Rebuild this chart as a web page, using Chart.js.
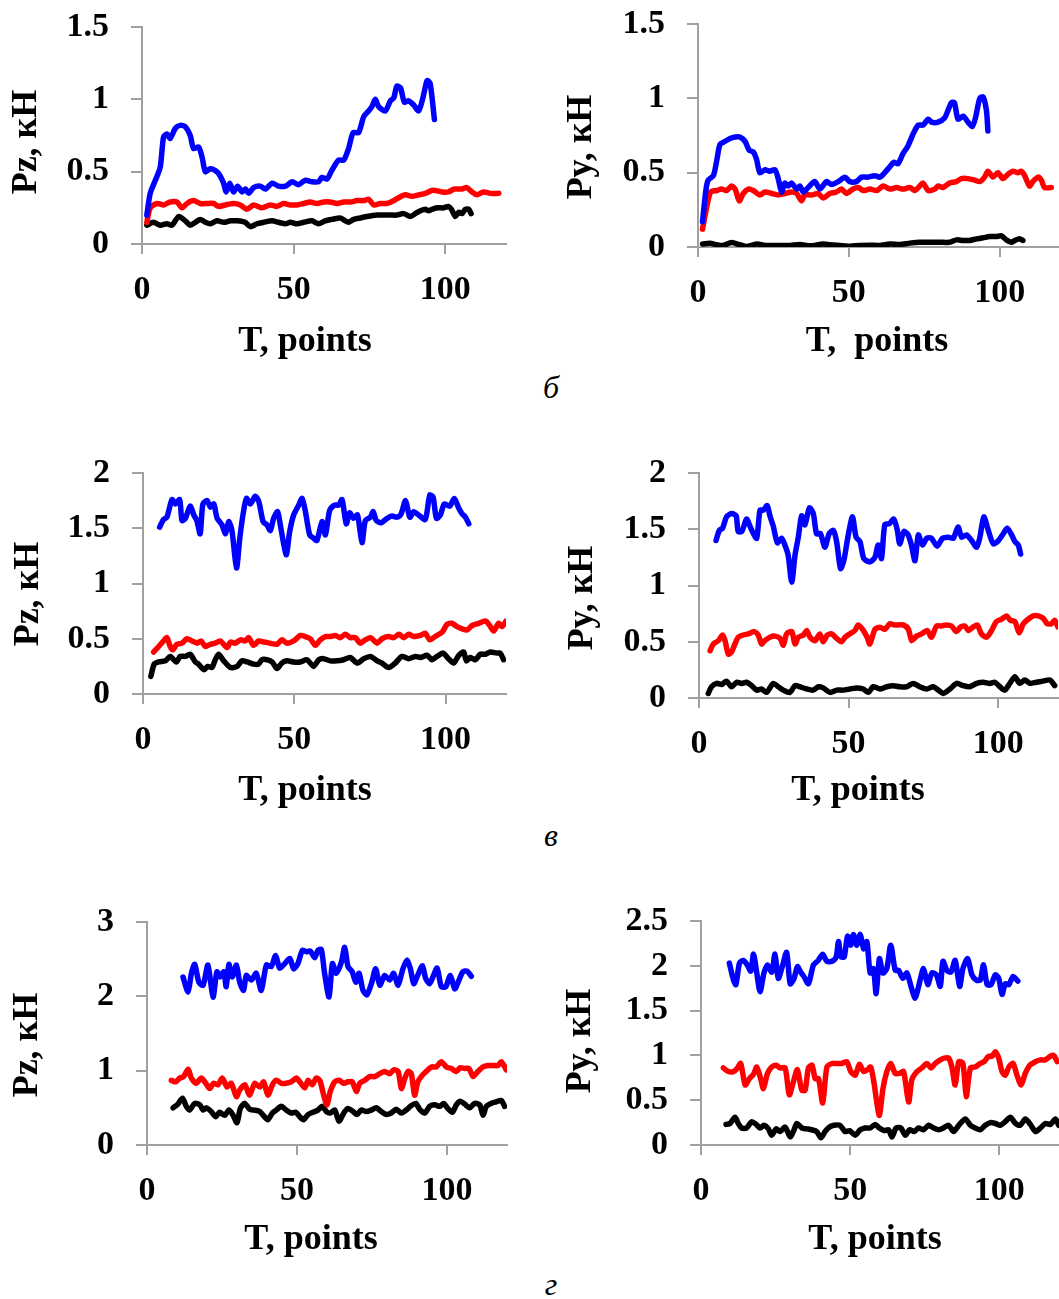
<!DOCTYPE html>
<html>
<head>
<meta charset="utf-8">
<script src="https://cdn.jsdelivr.net/npm/chart.js@4.4.1/dist/chart.umd.min.js"></script>
<style>
  html, body { margin: 0; padding: 0; background: #fff; }
  body { width: 1059px; height: 1299px; position: relative; overflow: hidden; }
  canvas { position: absolute; }
  .cap { position: absolute; font: italic 32px "Liberation Serif", serif; line-height: 32px; transform: translateX(-50%); }
</style>
</head>
<body>
<div class="cap" style="left:551px;top:371px">б</div>
<div class="cap" style="left:551px;top:819px">в</div>
<div class="cap" style="left:551px;top:1268px">г</div>
<script>
// tick labels
const xTicks = [0, 50, 100];
const yTicksB = [0, 0.5, 1, 1.5];
const yTicksV = [0, 0.5, 1, 1.5, 2];
const yTicksPzG = [0, 1, 2, 3];
const yTicksPyG = [0, 0.5, 1, 1.5, 2, 2.5];

// series: [T, force kN]
// б, Pz
const pzB_blue = [[1.6,0.20],[2.7,0.35],[4.4,0.44],[6,0.53],[7.1,0.74],[8.2,0.76],[9.3,0.73],[11,0.80],[12.6,0.82],[14.3,0.81],[15.9,0.75],[17,0.66],[18.7,0.67],[19.8,0.60],[20.9,0.50],[22.5,0.52],[24.7,0.50],[25.8,0.47],[26.9,0.42],[27.8,0.36],[28.9,0.42],[30.2,0.36],[31.5,0.40],[33,0.36],[34.1,0.38],[35.2,0.35],[36.8,0.39],[39,0.40],[40.7,0.38],[42.9,0.42],[45,0.40],[47.3,0.40],[49.5,0.43],[51.6,0.41],[53.8,0.44],[56,0.43],[58.2,0.43],[59.3,0.46],[61,0.45],[62.6,0.51],[64.8,0.58],[66.5,0.58],[68.1,0.66],[69.6,0.77],[71.4,0.77],[73.1,0.88],[74.7,0.92],[75.8,0.95],[76.9,1.00],[78,0.95],[80.2,0.92],[81.9,0.99],[83,1.01],[84,1.09],[85.2,1.08],[86.5,0.98],[87.9,0.99],[89.6,0.96],[91.2,0.92],[92.6,1.01],[94,1.13],[95,1.11],[96.4,0.86]];
const pzB_red = [[1.6,0.15],[2.7,0.25],[5,0.28],[7.1,0.27],[9.3,0.29],[11.5,0.29],[13.2,0.25],[14.8,0.28],[17,0.30],[19.2,0.28],[21.4,0.28],[23.6,0.28],[25.3,0.26],[27.5,0.27],[30.2,0.28],[32.4,0.27],[34.6,0.24],[36.8,0.27],[39.6,0.25],[42.3,0.27],[44.5,0.26],[46.7,0.28],[48.9,0.27],[51.1,0.27],[53.3,0.28],[55.5,0.29],[57.7,0.28],[59.9,0.29],[62,0.29],[64.3,0.28],[66.5,0.29],[68.7,0.29],[70.9,0.30],[73.1,0.30],[74.7,0.31],[76.4,0.27],[78.6,0.28],[80.8,0.28],[83,0.30],[84.6,0.32],[86.8,0.34],[89,0.33],[91.2,0.34],[93.4,0.35],[95.6,0.37],[96.7,0.37],[98.9,0.36],[101,0.36],[103,0.38],[105.5,0.38],[107,0.39],[108.8,0.36],[110.4,0.34],[112.6,0.36],[114.8,0.35],[117.6,0.35]];
const pzB_black = [[1.6,0.13],[3.8,0.15],[6,0.13],[8.2,0.14],[9.9,0.13],[12.1,0.19],[14.3,0.16],[15.9,0.13],[17.6,0.15],[19.2,0.17],[20.9,0.15],[22.5,0.14],[24.7,0.16],[27,0.15],[29.1,0.16],[31.3,0.16],[34,0.15],[35.7,0.12],[37.9,0.14],[40.1,0.15],[42.9,0.16],[45,0.15],[47.3,0.14],[48.9,0.15],[51.1,0.14],[53.3,0.15],[56,0.16],[58.2,0.14],[60.4,0.16],[62.6,0.17],[65.4,0.18],[67,0.16],[68.1,0.15],[69.8,0.17],[72,0.18],[74.2,0.19],[77.5,0.20],[79.7,0.20],[81.9,0.20],[84,0.20],[86.3,0.21],[88.5,0.19],[90.1,0.21],[91.8,0.23],[93.4,0.24],[94.5,0.23],[95.6,0.24],[97.3,0.25],[99.5,0.25],[101,0.26],[102,0.24],[103.3,0.19],[104.4,0.22],[105.5,0.21],[106.6,0.24],[107.7,0.24],[108.5,0.21]];
// б, Py
const pyB_blue = [[1.5,0.17],[2.6,0.38],[3.4,0.45],[5.1,0.48],[6.2,0.58],[7.3,0.69],[8.9,0.71],[10.6,0.73],[12.3,0.74],[13.9,0.74],[15.6,0.71],[17,0.65],[18.3,0.64],[19.4,0.59],[20.5,0.50],[22.2,0.52],[23.8,0.51],[25.5,0.52],[26.6,0.46],[27.7,0.37],[28.8,0.43],[29.9,0.41],[31,0.43],[32.7,0.39],[33.8,0.41],[34.9,0.37],[36.5,0.40],[38.7,0.44],[40.4,0.39],[42.6,0.44],[44.3,0.42],[46.5,0.44],[48.7,0.47],[50.3,0.44],[52.5,0.44],[54.2,0.47],[56.4,0.47],[58.6,0.48],[60.3,0.47],[61.9,0.50],[63.6,0.54],[64.9,0.57],[66.3,0.56],[68,0.63],[69.6,0.68],[71.3,0.76],[73,0.82],[74.6,0.82],[76.3,0.86],[77.4,0.84],[79.6,0.84],[81.8,0.87],[82.9,0.92],[84,0.97],[85,0.97],[86.2,0.86],[87.9,0.88],[89.5,0.84],[90.9,0.81],[92,0.87],[93.4,1.00],[94.5,1.01],[95.6,0.92],[96.1,0.78]];
const pyB_red = [[1.5,0.12],[2.9,0.27],[4.2,0.37],[6.2,0.38],[7.8,0.39],[9.5,0.38],[11.1,0.41],[12.3,0.39],[13.7,0.31],[15,0.36],[16.7,0.39],[18.3,0.38],[20.5,0.35],[22.2,0.37],[24.4,0.36],[26.6,0.35],[28.8,0.36],[31,0.37],[32.7,0.36],[34.3,0.31],[35.4,0.35],[37.6,0.35],[39.8,0.36],[41.5,0.33],[43.7,0.36],[45.9,0.37],[47.6,0.39],[49.2,0.36],[51.4,0.39],[53.1,0.40],[54.8,0.38],[57,0.39],[59.2,0.38],[61.4,0.41],[63.6,0.39],[65.8,0.40],[68,0.39],[70.2,0.40],[71.9,0.38],[73.5,0.41],[74.6,0.43],[76.3,0.38],[78.5,0.39],[79.6,0.41],[81.2,0.40],[83.4,0.43],[85.6,0.44],[87.3,0.46],[89.5,0.46],[91.7,0.45],[93.4,0.44],[95,0.47],[96.1,0.51],[97.8,0.47],[99.4,0.50],[101.1,0.46],[102.8,0.49],[104.4,0.51],[106.1,0.50],[107.2,0.51],[108.3,0.48],[109.9,0.41],[111,0.44],[112.7,0.47],[113.8,0.45],[114.9,0.40],[117.1,0.40]];
const pyB_black = [[1.5,0.02],[4,0.025],[6.2,0.015],[8.4,0.01],[11.1,0.03],[13.9,0.015],[16.1,0.003],[19.4,0.02],[22.7,0.01],[26,0.01],[30.5,0.01],[33.8,0.017],[37.1,0.008],[41.5,0.02],[43.7,0.015],[47,0.01],[50.3,0.005],[53.6,0.01],[57,0.012],[60.3,0.01],[63.6,0.02],[66.9,0.017],[70.2,0.026],[73.5,0.032],[76.8,0.032],[80.1,0.032],[83.4,0.032],[85.7,0.048],[87.9,0.044],[90.1,0.044],[92.3,0.055],[94.5,0.062],[96.7,0.07],[98.9,0.07],[100.6,0.075],[102.2,0.048],[103.9,0.032],[105,0.044],[106.6,0.055],[107.7,0.044]];
// в, Pz
const pzV_blue = [[5.5,1.51],[6.8,1.58],[7.9,1.60],[9.6,1.76],[10.7,1.72],[12.1,1.76],[12.9,1.57],[14,1.59],[15.6,1.70],[16.8,1.62],[17.8,1.57],[18.9,1.45],[19.8,1.72],[21.2,1.75],[22.3,1.69],[23.4,1.72],[24.5,1.59],[26.1,1.53],[27.3,1.45],[28.3,1.56],[29.4,1.48],[30.9,1.14],[32,1.41],[33.1,1.63],[34.2,1.77],[35.5,1.72],[37.1,1.79],[38.3,1.74],[39.7,1.56],[41,1.53],[42.1,1.48],[43.2,1.59],[44.5,1.65],[45.4,1.53],[46.5,1.36],[47.4,1.26],[48.5,1.47],[49.8,1.62],[51.5,1.71],[52.6,1.77],[53.7,1.65],[55.1,1.44],[56.4,1.41],[57.5,1.39],[59.2,1.56],[60.3,1.44],[61.7,1.66],[63.3,1.71],[64.7,1.71],[65.8,1.76],[67.2,1.54],[68.3,1.64],[69.6,1.59],[70.9,1.62],[72.4,1.37],[73.5,1.57],[75.2,1.60],[76.1,1.65],[77.1,1.57],[78.7,1.55],[80.7,1.59],[82.3,1.61],[84,1.60],[85.3,1.63],[86.8,1.75],[88.2,1.60],[89.5,1.65],[91.1,1.62],[93.3,1.58],[94.8,1.80],[95.9,1.78],[97,1.59],[98.3,1.62],[99.6,1.72],[101.4,1.70],[102.9,1.77],[104.4,1.68],[105.5,1.63],[106.6,1.60],[107.7,1.54]];
const pzV_red = [[3.5,0.38],[5.2,0.43],[6.8,0.48],[7.9,0.51],[9,0.43],[9.9,0.40],[11.2,0.45],[12.9,0.46],[14.5,0.50],[16.2,0.48],[17.9,0.46],[19.2,0.48],[20.6,0.43],[22.3,0.45],[23.9,0.46],[25.6,0.48],[27.8,0.42],[28.9,0.47],[30.5,0.46],[32.2,0.49],[33.8,0.48],[34.9,0.51],[36.6,0.44],[38.2,0.48],[39.9,0.47],[42.1,0.46],[44.3,0.45],[45.9,0.49],[47.6,0.46],[49.8,0.48],[52,0.53],[53.7,0.52],[55.3,0.50],[57,0.44],[58.6,0.49],[60.3,0.52],[61.9,0.52],[63.6,0.53],[65.2,0.51],[66.9,0.54],[68.5,0.51],[70.2,0.51],[71.8,0.46],[73.5,0.49],[75.2,0.51],[77.4,0.46],[79,0.50],[81.2,0.52],[82.9,0.51],[84.6,0.54],[86.2,0.51],[87.8,0.54],[89.5,0.52],[91.7,0.53],[93.3,0.55],[94.8,0.49],[96.6,0.52],[98.9,0.56],[100.5,0.63],[102.1,0.64],[103.8,0.61],[105.5,0.59],[107.1,0.58],[108.8,0.62],[111,0.64],[113.2,0.66],[114.6,0.62],[115.9,0.57],[117.6,0.64],[118.7,0.61],[120,0.66]];
const pzV_black = [[2.6,0.16],[3.7,0.27],[5.2,0.29],[7.4,0.30],[9,0.34],[11,0.29],[12.3,0.34],[14,0.34],[15.6,0.36],[17.3,0.29],[18.4,0.27],[20.1,0.22],[21.4,0.25],[22.8,0.24],[23.9,0.31],[25,0.36],[26.7,0.30],[28.9,0.24],[31.1,0.25],[32.7,0.30],[34.4,0.29],[36.6,0.27],[38.2,0.27],[39.3,0.31],[41,0.31],[42.7,0.29],[44.3,0.23],[45.9,0.28],[47.6,0.30],[49.8,0.29],[52,0.29],[54.2,0.31],[56.4,0.25],[58.1,0.31],[59.7,0.32],[61.9,0.30],[64.1,0.30],[66.3,0.31],[68.5,0.33],[70.8,0.28],[73,0.32],[75.2,0.34],[77.4,0.30],[79,0.28],[81.2,0.24],[83.4,0.28],[85.6,0.34],[87.8,0.32],[90,0.34],[91.7,0.33],[93.9,0.35],[95.5,0.31],[97.2,0.34],[99.2,0.37],[101,0.32],[102.7,0.28],[104.4,0.35],[106,0.38],[106.9,0.30],[108.2,0.33],[109.9,0.31],[111.5,0.36],[113.2,0.36],[114.8,0.38],[117,0.37],[118.1,0.37],[119.2,0.31]];
// в, Py
const pyV_blue = [[5.7,1.40],[6.8,1.49],[7.9,1.51],[9.2,1.61],[10.9,1.64],[12.4,1.62],[13.1,1.48],[14.3,1.48],[15.9,1.59],[17,1.53],[18.2,1.46],[19.3,1.42],[20.4,1.67],[21.5,1.67],[22.8,1.71],[23.7,1.62],[24.8,1.53],[26.2,1.38],[27.6,1.42],[28.7,1.36],[29.8,1.27],[31,1.03],[32.1,1.27],[33.2,1.43],[34.3,1.62],[35.4,1.54],[36.9,1.69],[38.2,1.64],[39.3,1.46],[40.6,1.46],[42.1,1.34],[43.5,1.46],[44.9,1.49],[46,1.39],[47.3,1.15],[48.4,1.22],[49.9,1.45],[51.3,1.61],[52.5,1.43],[53.8,1.39],[55.1,1.24],[57.1,1.21],[58.8,1.25],[59.9,1.36],[61,1.24],[62.1,1.54],[63.6,1.55],[65.1,1.59],[66.3,1.49],[67.1,1.37],[68.5,1.48],[69.9,1.45],[71,1.36],[72.2,1.22],[73.3,1.45],[74.7,1.36],[76.1,1.42],[77.7,1.42],[79.6,1.35],[81.4,1.42],[83.3,1.43],[85,1.42],[86.6,1.52],[87.8,1.43],[89.4,1.45],[91.1,1.40],[92.8,1.34],[93.9,1.43],[95.2,1.61],[96.7,1.49],[98.4,1.37],[100.1,1.40],[101.7,1.46],[103,1.51],[104.5,1.45],[105.6,1.39],[106.7,1.36],[107.5,1.28]];
const pyV_red = [[3.7,0.42],[4.8,0.48],[6.5,0.51],[7.9,0.56],[8.7,0.51],[9.8,0.39],[10.9,0.41],[12,0.48],[13.1,0.54],[14.8,0.56],[16.5,0.57],[18.4,0.59],[19.8,0.56],[20.9,0.48],[22,0.51],[23.7,0.54],[25.4,0.55],[27.1,0.53],[28.2,0.47],[29.3,0.57],[31,0.59],[32.1,0.48],[33.2,0.54],[34.9,0.56],[36,0.60],[37.1,0.54],[38.8,0.51],[40.4,0.57],[41.5,0.50],[42.9,0.56],[44.3,0.57],[46,0.53],[47.7,0.50],[48.8,0.54],[50.4,0.57],[52.1,0.60],[53.2,0.65],[54.7,0.61],[56.2,0.54],[57.1,0.48],[58.8,0.61],[60.5,0.63],[62.1,0.61],[63.8,0.66],[65.1,0.65],[66.5,0.65],[68.3,0.65],[70,0.61],[71.1,0.51],[72.7,0.55],[74.4,0.57],[76.3,0.60],[77.7,0.54],[79.4,0.64],[81.1,0.64],[82.7,0.65],[84.4,0.64],[86.1,0.59],[87.4,0.63],[88.9,0.64],[90,0.60],[91.6,0.63],[93,0.65],[94.4,0.57],[96.1,0.54],[97.8,0.60],[99.4,0.68],[101.1,0.70],[102.8,0.73],[104.1,0.69],[105.6,0.68],[107,0.58],[108.4,0.66],[110,0.70],[111.7,0.73],[113.4,0.73],[115,0.71],[116.4,0.66],[117.8,0.66],[118.9,0.69],[120,0.63]];
const pyV_black = [[3.1,0.04],[4.2,0.10],[5.9,0.13],[7.6,0.12],[9.2,0.15],[10.9,0.10],[12.6,0.14],[14.3,0.13],[15.9,0.14],[17.6,0.11],[19.3,0.07],[20.9,0.08],[22.6,0.05],[24.8,0.13],[26.5,0.10],[28.2,0.07],[30.4,0.05],[32.1,0.11],[33.7,0.10],[36,0.08],[38.2,0.07],[39.9,0.10],[41.5,0.09],[43.8,0.05],[46,0.07],[48.2,0.07],[50.4,0.08],[52.7,0.09],[54.9,0.08],[56.6,0.05],[58.2,0.10],[60.5,0.08],[62.7,0.10],[64.9,0.11],[67.1,0.10],[69.4,0.10],[71.6,0.13],[73.8,0.10],[76.1,0.08],[78.3,0.10],[80,0.07],[81.6,0.04],[83.9,0.08],[86.1,0.13],[88.3,0.11],[90.5,0.10],[92.8,0.13],[95,0.14],[97.2,0.13],[98.9,0.14],[100.6,0.10],[102.2,0.07],[103.9,0.13],[105.6,0.19],[107.2,0.13],[108.9,0.16],[110.6,0.13],[112.8,0.14],[115,0.15],[117.3,0.16],[118.9,0.11]];
// г, Pz
const pzG_blue = [[12,2.26],[13.7,2.06],[14.8,2.31],[15.9,2.43],[17.3,2.19],[18.7,2.15],[20.3,2.42],[22,1.99],[23.3,2.33],[24.4,2.26],[25.6,2.33],[26.4,2.13],[27.3,2.43],[28.4,2.26],[29.8,2.42],[30.9,2.19],[32.2,2.08],[33.1,2.28],[34.8,2.22],[36.4,2.31],[38.1,2.08],[39.8,2.42],[41.4,2.40],[42.9,2.55],[44.2,2.38],[45.9,2.44],[47.6,2.51],[48.9,2.37],[50.3,2.44],[51.8,2.62],[53.1,2.60],[54.4,2.61],[55.9,2.52],[57,2.62],[58.1,2.63],[59.2,2.31],[60.7,1.99],[61.8,2.44],[63.1,2.31],[64.8,2.46],[65.9,2.66],[67,2.40],[68.4,2.33],[69.6,2.19],[70.7,2.31],[72,2.08],[73.3,2.02],[74.8,2.17],[76.2,2.37],[77.6,2.15],[79.2,2.28],[80.9,2.22],[82.2,2.31],[83.7,2.15],[85.3,2.37],[86.7,2.49],[87.8,2.37],[88.9,2.17],[90.3,2.29],[91.8,2.41],[92.9,2.24],[94.2,2.17],[95.3,2.26],[96.7,2.38],[98.1,2.13],[99.6,2.13],[101.1,2.28],[102.6,2.10],[103.7,2.19],[105.3,2.33],[106.7,2.34],[108.1,2.27]];
const pzG_red = [[8.1,0.87],[9.6,0.85],[10.9,0.90],[12.2,0.92],[13.7,1.02],[14.8,0.90],[16.4,0.83],[18.1,0.90],[19.6,0.83],[20.9,0.76],[22.2,0.83],[23.7,0.81],[25.1,0.90],[26.7,0.78],[28.1,0.83],[29.8,0.65],[30.9,0.74],[32.6,0.81],[34.2,0.67],[35.9,0.83],[37.6,0.78],[38.9,0.85],[40.3,0.67],[41.8,0.81],[43.1,0.87],[44.8,0.83],[46.4,0.83],[48.1,0.85],[49.8,0.90],[51.1,0.84],[52.6,0.77],[53.7,0.87],[55.1,0.81],[56.4,0.90],[57.6,0.87],[58.9,0.67],[60,0.54],[61.1,0.72],[62.6,0.85],[64,0.87],[65.6,0.83],[67,0.85],[68.4,0.85],[69.8,0.72],[70.9,0.83],[72.6,0.87],[74.2,0.92],[75.9,0.92],[77.6,0.96],[79.2,0.99],[80.9,0.96],[82.2,1.01],[83.7,0.99],[84.8,0.76],[85.9,0.89],[87,0.99],[88.1,0.96],[89.2,0.67],[90.3,0.85],[91.8,0.94],[93.1,0.99],[94.8,1.05],[96.4,1.05],[98.1,1.12],[99.8,1.05],[101.4,1.03],[103.1,0.99],[104.4,1.04],[105.9,1.03],[107.3,1.03],[108.7,0.92],[110.3,0.99],[112,1.05],[113.7,1.07],[115.3,1.07],[117,1.07],[118.1,1.12],[119.8,1.01]];
const pzG_black = [[8.7,0.50],[10.3,0.55],[11.8,0.63],[13.1,0.52],[14.2,0.47],[15.9,0.56],[17.6,0.54],[18.7,0.47],[19.8,0.50],[21.4,0.45],[22.9,0.38],[24.2,0.44],[25.9,0.40],[27.3,0.47],[28.7,0.40],[30,0.30],[31.1,0.49],[32.6,0.56],[34.2,0.48],[35.9,0.47],[37.6,0.45],[39.2,0.38],[40.3,0.34],[41.8,0.43],[43.1,0.47],[44.8,0.52],[46.4,0.47],[48.1,0.43],[49.6,0.44],[50.9,0.38],[52.2,0.34],[53.7,0.41],[55.3,0.44],[57,0.47],[58.4,0.52],[59.8,0.45],[61.1,0.43],[62.6,0.47],[64,0.32],[65.6,0.43],[67,0.49],[68.7,0.45],[70,0.41],[71.4,0.47],[73.1,0.45],[74.8,0.47],[76.4,0.50],[78.1,0.45],[79.8,0.41],[81.4,0.43],[83.1,0.48],[84.8,0.43],[86.4,0.47],[88.1,0.53],[89.6,0.56],[90.9,0.48],[92.6,0.43],[94.2,0.52],[95.9,0.54],[97.6,0.52],[98.9,0.56],[100.3,0.49],[101.8,0.44],[103.1,0.54],[104.4,0.59],[105.9,0.55],[107.6,0.50],[109.2,0.56],[110.9,0.54],[112,0.40],[113.1,0.52],[114.8,0.56],[116.4,0.58],[118.1,0.60],[119.2,0.52]];
// г, Py
const pyG_blue = [[9.5,2.03],[10.9,1.84],[11.7,1.79],[12.9,2.03],[14.2,2.06],[15.5,2.01],[16.7,1.94],[17.6,2.13],[18.7,1.92],[19.8,1.71],[21.1,1.92],[22.3,2.01],[23.7,1.93],[24.8,2.13],[25.9,1.86],[27.4,2.01],[28.7,2.15],[29.9,1.80],[31.2,1.86],[32.3,1.99],[33.4,1.93],[34.5,1.88],[36,1.80],[37.7,2.01],[39.3,2.06],[40.8,2.13],[42.2,2.05],[43.9,2.05],[45.3,2.10],[46.1,2.27],[46.9,2.10],[48,2.10],[49.1,2.33],[50.2,2.23],[51.1,2.35],[52.2,2.23],[53.4,2.35],[54.5,2.19],[55.6,2.27],[56.7,1.92],[57.8,1.97],[58.7,1.69],[59.8,2.08],[61,1.92],[62.3,1.97],[63.6,2.23],[65.1,1.95],[66.2,1.95],[67.7,1.86],[69,1.92],[70.4,1.77],[71.8,1.64],[73.3,1.82],[74.6,1.97],[76,1.79],[77.4,1.92],[78.9,1.90],[80.2,1.77],[81.1,2.05],[82.4,1.95],[83.8,1.93],[85.2,2.06],[86.7,1.77],[87.8,1.97],[89.4,2.08],[90.8,1.90],[92.3,1.84],[93.6,1.84],[94.7,2.01],[95.9,1.79],[97.2,1.79],[98.7,1.90],[99.8,1.86],[100.9,1.68],[102,1.80],[103.2,1.79],[104.6,1.88],[106.2,1.83]];
const pyG_red = [[7.5,0.86],[9.2,0.82],[10.9,0.82],[12,0.85],[13.3,0.91],[14.8,0.67],[16.2,0.74],[17.6,0.79],[18.7,0.87],[20,0.74],[20.9,0.63],[22.3,0.80],[23.7,0.87],[25.2,0.89],[26.5,0.86],[28.2,0.86],[29.6,0.56],[31,0.71],[32.3,0.84],[33.8,0.61],[34.9,0.61],[36,0.86],[37.2,0.89],[38.3,0.74],[39.4,0.74],[40.8,0.47],[42.2,0.87],[43.9,0.91],[45.5,0.91],[47.2,0.91],[48.9,0.93],[50.2,0.82],[51.7,0.78],[53.1,0.90],[54.5,0.82],[55.8,0.84],[56.9,0.87],[58.1,0.67],[58.9,0.48],[59.8,0.33],[61,0.63],[62.3,0.82],[63.6,0.91],[65.1,0.80],[66.6,0.80],[67.9,0.82],[69.6,0.48],[70.7,0.73],[72.4,0.82],[74,0.86],[75.7,0.91],[77.1,0.86],[78.5,0.91],[80.2,0.95],[81.5,0.97],[83,0.97],[84.1,0.87],[85.2,0.67],[86.4,0.93],[87.8,0.91],[88.9,0.54],[90.3,0.86],[91.9,0.87],[93.6,0.91],[94.9,0.93],[96.4,0.99],[97.5,0.99],[98.7,1.04],[99.8,0.97],[100.9,0.82],[102,0.78],[103.2,0.87],[104.6,0.91],[105.9,0.78],[107.3,0.67],[108.7,0.80],[110.2,0.89],[112.1,0.93],[113.8,0.95],[115.4,0.95],[117.1,0.99],[118.2,1.00],[119.4,0.93]];
const pyG_black = [[8.4,0.23],[9.7,0.24],[11.4,0.31],[12.5,0.24],[13.6,0.19],[15.3,0.19],[17,0.26],[18.5,0.23],[19.8,0.19],[21.1,0.22],[22.6,0.18],[23.7,0.11],[25.2,0.18],[26.5,0.15],[28.2,0.20],[29.9,0.09],[31.2,0.17],[32.1,0.24],[33.8,0.19],[35.5,0.18],[37.1,0.17],[38.8,0.15],[40.2,0.08],[41.6,0.15],[43.1,0.20],[44.6,0.22],[46.6,0.22],[48.3,0.15],[49.8,0.16],[51.7,0.11],[53.4,0.17],[55,0.19],[56.7,0.19],[58.4,0.23],[59.8,0.19],[61.4,0.16],[62.9,0.17],[64,0.09],[65.4,0.19],[67,0.19],[68.5,0.11],[69.9,0.17],[71.5,0.15],[72.9,0.19],[74.6,0.17],[76.3,0.22],[78,0.19],[79.6,0.17],[81.3,0.19],[83,0.22],[84.7,0.15],[86.4,0.22],[88.6,0.29],[90.3,0.22],[91.9,0.19],[93.6,0.17],[95.3,0.22],[97,0.25],[98.7,0.24],[100.3,0.22],[102,0.26],[103.7,0.31],[105.4,0.24],[107,0.22],[108.7,0.29],[110.4,0.23],[112.1,0.15],[113.8,0.19],[115.4,0.24],[117.1,0.23],[118.8,0.29],[119.9,0.22]];

// page layout: axis origin in page pixels, px per T unit, title centres
const panels = [
  { axisX: 142, top: 27, bottom: 244, ppu: 3.033, yMax: 1.5, yTicks: yTicksB, yText: 'Pz, кН', xText: 'T, points', xT: [305, 342], yT: [27, 142], series: [pzB_blue, pzB_red, pzB_black] },
  { axisX: 698, top: 24, bottom: 247, ppu: 3.02, yMax: 1.5, yTicks: yTicksB, yText: 'Py, кН', xText: 'T,  points', xT: [877, 342], yT: [582, 147], series: [pyB_blue, pyB_red, pyB_black] },
  { axisX: 143, top: 473, bottom: 694, ppu: 3.023, yMax: 2, yTicks: yTicksV, yText: 'Pz, кН', xText: 'T, points', xT: [305, 791], yT: [29, 594], series: [pzV_blue, pzV_red, pzV_black] },
  { axisX: 699, top: 473, bottom: 698, ppu: 2.993, yMax: 2, yTicks: yTicksV, yText: 'Py, кН', xText: 'T, points', xT: [858, 791], yT: [583, 598], series: [pyV_blue, pyV_red, pyV_black] },
  { axisX: 147, top: 922, bottom: 1145, ppu: 3.0, yMax: 3, yTicks: yTicksPzG, yText: 'Pz, кН', xText: 'T, points', xT: [311, 1240], yT: [28, 1045], series: [pzG_blue, pzG_red, pzG_black] },
  { axisX: 701, top: 921, bottom: 1145, ppu: 2.98, yMax: 2.5, yTicks: yTicksPyG, yText: 'Py, кН', xText: 'T, points', xT: [875, 1240], yT: [581, 1041], series: [pyG_blue, pyG_red, pyG_black] },
];

const colors = ['#0000ff', '#ff0000', '#000000'];
const AXIS = '#a0a0a0';
const Y_W = 140, X_H = 125, PAD_T = 46, PAD_R = 8;
const tickFont = { family: 'Liberation Serif', size: 34, weight: 'bold' };

const axisTitles = {
  id: 'axisTitles',
  afterDraw(chart, args, o) {
    const ctx = chart.ctx;
    ctx.save();
    ctx.font = 'bold 36px "Liberation Serif"';
    ctx.fillStyle = '#000';
    ctx.textAlign = 'center';
    ctx.textBaseline = 'middle';
    ctx.fillText(o.xText, o.xPos[0], o.xPos[1]);
    ctx.translate(o.yPos[0], o.yPos[1]);
    ctx.rotate(-Math.PI / 2);
    ctx.fillText(o.yText, 0, 0);
    ctx.restore();
  }
};

panels.forEach((p) => {
  const left = p.axisX - Y_W;
  const top = p.top - PAD_T;
  const w = Y_W + Math.round(120 * p.ppu) + PAD_R;
  const h = PAD_T + (p.bottom - p.top) + X_H;

  const canvas = document.createElement('canvas');
  canvas.width = w;
  canvas.height = h;
  canvas.style.left = left + 'px';
  canvas.style.top = top + 'px';
  canvas.style.width = w + 'px';
  canvas.style.height = h + 'px';
  document.body.appendChild(canvas);

  new Chart(canvas.getContext('2d'), {
    type: 'line',
    data: {
      datasets: p.series.map((s, i) => ({
        data: s.map(([x, y]) => ({ x, y })),
        borderColor: colors[i],
        backgroundColor: colors[i],
      })),
    },
    options: {
      responsive: false,
      animation: false,
      events: [],
      layout: { padding: { top: PAD_T, right: PAD_R, left: 0, bottom: 0 } },
      elements: {
        point: { radius: 0 },
        line: { borderWidth: 5.5, tension: 0.25, borderJoinStyle: 'round', borderCapStyle: 'round' },
      },
      plugins: {
        legend: { display: false },
        tooltip: { enabled: false },
        axisTitles: {
          xText: p.xText, yText: p.yText,
          xPos: [p.xT[0] - left, p.xT[1] - top],
          yPos: [p.yT[0] - left, p.yT[1] - top],
        },
      },
      scales: {
        x: {
          type: 'linear', min: 0, max: 120,
          afterBuildTicks: (s) => { s.ticks = xTicks.map((v) => ({ value: v })); },
          afterFit: (s) => { s.height = X_H; },
          border: { color: AXIS, width: 2 },
          grid: { drawOnChartArea: false, drawTicks: true, tickLength: 10, color: AXIS, lineWidth: 2 },
          ticks: { padding: 16, color: '#000', font: tickFont, maxRotation: 0, autoSkip: false, callback: (v) => String(v) },
        },
        y: {
          type: 'linear', min: 0, max: p.yMax,
          afterBuildTicks: (s) => { s.ticks = p.yTicks.map((v) => ({ value: v })); },
          afterFit: (s) => { s.width = Y_W; },
          border: { color: AXIS, width: 2 },
          grid: { drawOnChartArea: false, drawTicks: true, tickLength: 11, color: AXIS, lineWidth: 2 },
          ticks: { padding: 22, color: '#000', font: tickFont, autoSkip: false, callback: (v) => String(v) },
        },
      },
    },
    plugins: [axisTitles],
  });
});
</script>
</body>
</html>
